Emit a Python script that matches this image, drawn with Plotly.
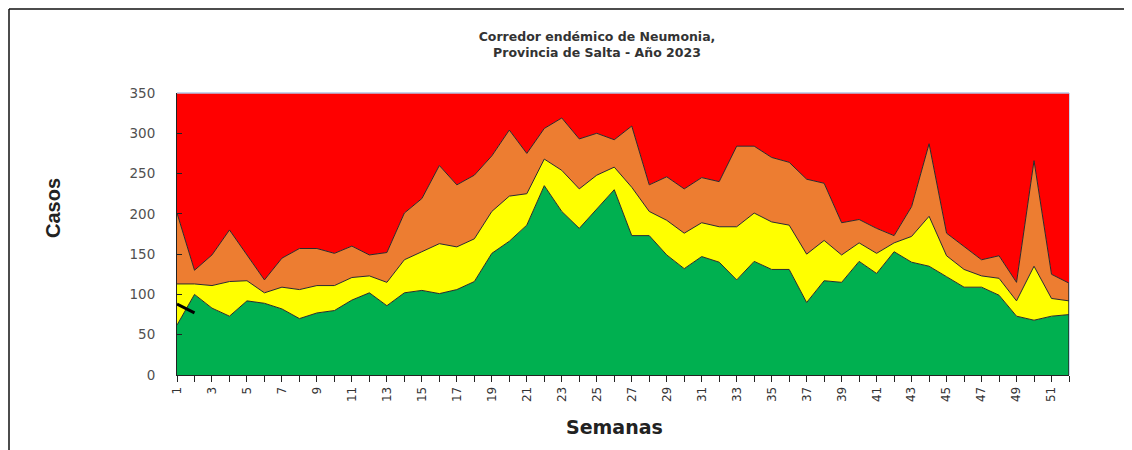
import plotly.graph_objects as go

weeks = list(range(1, 53))
# upper limit of each zone (cases per week)
exito = [62, 100, 83, 73, 92, 89, 82, 70, 77, 80, 93, 102, 86, 102, 105, 101, 106, 116, 151, 166,
         186, 235, 203, 182, 206, 230, 173, 173, 149, 132, 147, 140, 118, 141, 131, 131, 90, 117,
         115, 141, 126, 153, 140, 135, 122, 109, 109, 99, 73, 68, 73, 75]
seguridad = [113, 113, 111, 116, 117, 102, 109, 106, 111, 111, 121, 123, 115, 143, 153, 163, 159, 169, 203, 222,
             225, 268, 254, 231, 248, 258, 233, 203, 192, 176, 189, 184, 184, 201, 190, 186, 150, 167,
             149, 164, 151, 164, 172, 197, 148, 131, 123, 120, 92, 135, 95, 92]
alerta = [201, 130, 149, 180, 149, 118, 145, 157, 157, 151, 160, 149, 152, 201, 219, 260, 236, 248, 272, 304,
          275, 306, 319, 293, 300, 292, 309, 236, 246, 231, 245, 240, 284, 284, 270, 264, 243, 238,
          189, 193, 182, 173, 209, 287, 176, 159, 143, 148, 115, 266, 125, 114]
brote = [350] * 52
casos_2023_weeks = [1, 2]
casos_2023 = [88, 77]

tick_text = [str(w) if w % 2 == 1 else "" for w in weeks]

# page body has an 8px margin; screen coords -> paper coords
OFF = 8
L, T, PW, PH = 169, 85, 892, 282
W, H = 1124, 442


def sx(x):
    return (x - OFF - L) / PW


def sy(y):
    return (T + OFF + PH - y) / PH


outline = dict(color="#2a2a2a", width=1)
fig = go.Figure()
fig.add_trace(go.Scatter(x=weeks, y=exito, mode="lines", line=outline,
                         fill="tozeroy", fillcolor="#00B050", name="Éxito"))
fig.add_trace(go.Scatter(x=weeks, y=seguridad, mode="lines", line=outline,
                         fill="tonexty", fillcolor="#FFFF00", name="Seguridad"))
fig.add_trace(go.Scatter(x=weeks, y=alerta, mode="lines", line=outline,
                         fill="tonexty", fillcolor="#ED7D31", name="Alerta"))
fig.add_trace(go.Scatter(x=weeks, y=brote, mode="lines", line=dict(width=0),
                         fill="tonexty", fillcolor="#FF0000", name="Brote"))
# closing edge at last week
fig.add_trace(go.Scatter(x=[weeks[-1], weeks[-1]], y=[0, alerta[-1]], mode="lines",
                         line=dict(color="#2a2a2a", width=1.5), showlegend=False))
fig.add_trace(go.Scatter(x=casos_2023_weeks, y=casos_2023, mode="lines",
                         line=dict(color="black", width=3), name="Casos 2023"))

fig.update_layout(
    width=W, height=H,
    margin=dict(l=L, r=W - L - PW, t=T, b=H - T - PH, autoexpand=False),
    paper_bgcolor="white", plot_bgcolor="white",
    showlegend=False,
    title=dict(text="<b>Corredor endémico de Neumonia,<br>Provincia de Salta - Año 2023</b>",
               x=(597 - OFF) / W, xanchor="center", y=1 - (41 - OFF) / H, yanchor="top",
               font=dict(family="DejaVu Sans", size=12.5, color="#333333")),
    font=dict(family="DejaVu Sans", color="#404040"),
)
fig.update_xaxes(range=[1, 52], tickmode="array", tickvals=weeks, ticktext=tick_text,
                 tickangle=-90, ticks="outside", ticklen=6, tickcolor="#222", tickwidth=1,
                 showline=True, linecolor="#222", linewidth=1, showgrid=False, zeroline=False,
                 tickfont=dict(family="DejaVu Sans", size=12, color="#333"))
fig.update_yaxes(range=[0, 350], tickvals=[0, 50, 100, 150, 200, 250, 300, 350],
                 ticks="inside", ticklen=5, tickcolor="#222", showline=True, linecolor="#222",
                 linewidth=1, showgrid=False, zeroline=False, ticklabelstandoff=18,
                 tickfont=dict(family="DejaVu Sans", size=13.5, color="#505050"))

fig.add_annotation(text="<b>Semanas</b>", xref="paper", yref="paper", x=sx(614), y=sy(427),
                   xanchor="center", yanchor="middle", showarrow=False,
                   font=dict(family="DejaVu Sans", size=19, color="#222"))
fig.add_annotation(text="<b>Casos</b>", xref="paper", yref="paper", x=sx(53), y=sy(208),
                   xanchor="center", yanchor="middle", showarrow=False, textangle=-90,
                   font=dict(family="Liberation Sans Narrow, Liberation Sans", size=20, color="#222"))

# light plot-area border (top and right)
fig.add_shape(type="line", xref="paper", yref="paper", x0=0, x1=1, y0=1, y1=1,
              line=dict(color="#b4c6e7", width=1.5))
fig.add_shape(type="line", xref="paper", yref="paper", x0=1, x1=1, y0=0, y1=1,
              line=dict(color="#b4c6e7", width=1.5), layer="below")

# outer frame of the picture
fig.add_shape(type="line", xref="paper", yref="paper", x0=sx(9), x1=sx(1131), y0=sy(9), y1=sy(9),
              line=dict(color="#111", width=1.5))
fig.add_shape(type="line", xref="paper", yref="paper", x0=sx(9), x1=sx(9), y0=sy(9), y1=sy(450),
              line=dict(color="#111", width=1.5))
fig.add_shape(type="line", xref="paper", yref="paper", x0=sx(1125), x1=sx(1125), y0=sy(9), y1=sy(32),
              line=dict(color="#111", width=1.5))

fig.write_html("out.html")
